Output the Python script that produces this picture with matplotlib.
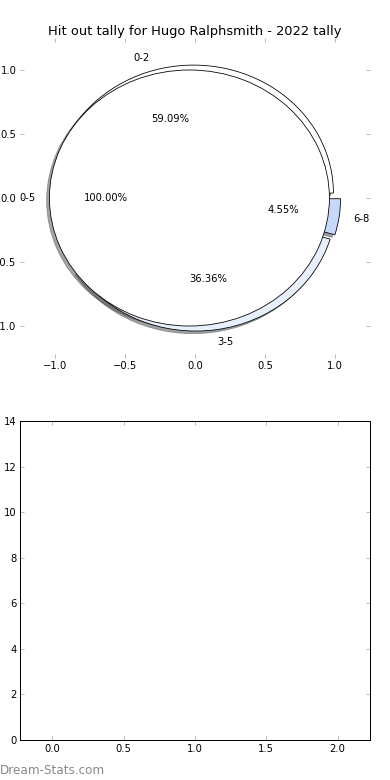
import matplotlib
matplotlib.use("Agg")
import matplotlib.pyplot as plt

# tally data
buckets = ["0-2", "3-5", "6-8"]
counts = [13, 8, 1]
group_labels = ["0-5"]
group_counts = [22]
bucket_colors = ["#ffffff", "#e8effd", "#c6d9fa"]

x_ticks = [-1.0, -0.5, 0.0, 0.5, 1.0]
bottom_xticks = [0.0, 0.5, 1.0, 1.5, 2.0]
bottom_yticks = [0, 2, 4, 6, 8, 10, 12, 14]

plt.rcParams["font.family"] = "DejaVu Sans"
plt.rcParams["font.size"] = 10

fig = plt.figure(figsize=(390 / 72, 780 / 72), dpi=72)

# ---- top: pie ----
ax = fig.add_axes([20 / 390, 1 - 358 / 780, 350 / 390, 320 / 780])
ax.pie(counts, labels=buckets, autopct="%1.2f%%", explode=[0.04, 0.04, 0.04],
       colors=bucket_colors, shadow=True, startangle=0,
       wedgeprops={"edgecolor": "black", "linewidth": 0.8})
ax.pie(group_counts, labels=group_labels, autopct="%1.2f%%", explode=[0.04],
       colors=["#ffffff"], shadow=True, startangle=0,
       wedgeprops={"edgecolor": "black", "linewidth": 0.8})
ax.set_aspect("auto")
ax.set_frame_on(False)
ax.set_xlim(-1.25, 1.25)
ax.set_ylim(-1.25, 1.25)
ax.set_xticks(x_ticks)
ax.set_yticks(x_ticks)
ax.tick_params(direction="in", color="#bbbbbb", length=4, width=1,
               top=True, right=True, labelsize=10)
ax.set_title("Hit out tally for Hugo Ralphsmith - 2022 tally", fontsize=13, pad=3)

# ---- bottom: empty axes ----
ax2 = fig.add_axes([20 / 390, 1 - 740 / 780, 350 / 390, 319 / 780])
ax2.set_xlim(-0.228, 2.228)
ax2.set_ylim(0, 14)
ax2.set_xticks(bottom_xticks)
ax2.set_yticks(bottom_yticks)
ax2.tick_params(direction="in", color="#bbbbbb", length=4, width=1,
                top=True, right=True, labelsize=10)
for s in ax2.spines.values():
    s.set_linewidth(1)
    s.set_color("black")

fig.text(0.0, 1 - 770 / 780, "Dream-Stats.com", fontsize=12, color="#888888",
         ha="left", va="center")

fig.savefig("out.png", dpi=72)
